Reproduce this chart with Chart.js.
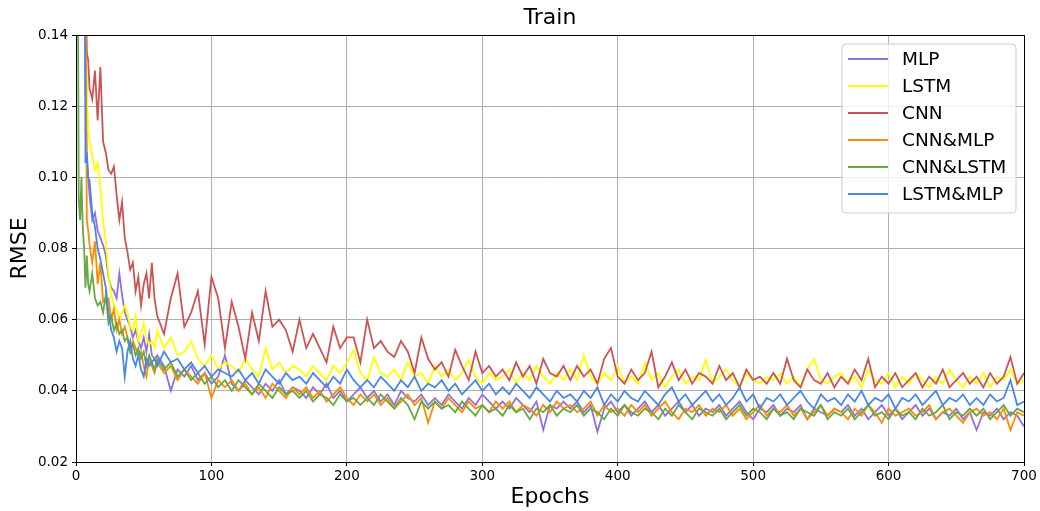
<!DOCTYPE html>
<html>
<head>
<meta charset="utf-8">
<title>Train</title>
<script src="https://cdn.jsdelivr.net/npm/chart.js@4.4.1/dist/chart.umd.min.js"></script>
<style>
  html, body { margin: 0; padding: 0; background: #fff; }
  #wrap { width: 1040px; height: 511px; }
</style>
</head>
<body>
<div id="wrap"><canvas id="trainChart" width="1040" height="511"></canvas></div>
<script>
const epochs = [0, 1, 2, 3, 4, 5, 6, 7, 8, 9, 10,
  12, 14, 16, 18, 20, 22, 24, 26, 28, 30, 32, 34, 36, 38, 40,
  42, 44, 46, 48, 50, 52, 54, 56, 58, 60];
for (let e = 65; e <= 700; e += 5) epochs.push(e);

// RMSE per series (values above 0.14 run off the top of the plot)
const mlp = [
  0.3, 0.3, 0.3, 0.3, 0.3, 0.3, 0.3, 0.13, 0.105, 0.100, 0.095,
  0.088, 0.090, 0.085, 0.083, 0.081, 0.078, 0.072, 0.069, 0.068, 0.066,
  0.073, 0.067, 0.062, 0.060, 0.058, 0.055, 0.057, 0.054, 0.052, 0.055,
  0.051, 0.056, 0.050, 0.049, 0.050,
  0.047, 0.040, 0.046, 0.044, 0.047, 0.043, 0.045, 0.042, 0.044, 0.050,
  0.042, 0.040, 0.043, 0.041, 0.039, 0.042, 0.040, 0.043, 0.039, 0.041,
  0.040, 0.038, 0.041, 0.039, 0.042, 0.038, 0.040, 0.037, 0.039, 0.041,
  0.038, 0.040, 0.037, 0.039, 0.036, 0.040, 0.038, 0.037, 0.039, 0.036,
  0.038, 0.036, 0.039, 0.037, 0.035, 0.038, 0.036, 0.039, 0.037, 0.035,
  0.037, 0.035, 0.038, 0.036, 0.034, 0.037, 0.029, 0.036, 0.035, 0.037,
  0.035, 0.037, 0.034, 0.036, 0.0285, 0.035, 0.037, 0.034, 0.036, 0.033,
  0.035, 0.037, 0.034, 0.036, 0.033, 0.035, 0.037, 0.034, 0.036, 0.033,
  0.035, 0.034, 0.036, 0.033, 0.035, 0.037, 0.034, 0.032, 0.035, 0.034,
  0.036, 0.033, 0.035, 0.034, 0.036, 0.032, 0.035, 0.034, 0.033, 0.035,
  0.034, 0.036, 0.033, 0.035, 0.032, 0.034, 0.036, 0.033, 0.035, 0.032,
  0.034, 0.036, 0.033, 0.035, 0.032, 0.034, 0.033, 0.035, 0.032, 0.034,
  0.029, 0.034, 0.033, 0.035, 0.032, 0.034, 0.033, 0.030
];
const lstm = [
  0.3, 0.3, 0.3, 0.3, 0.3, 0.25, 0.2, 0.16, 0.122, 0.114, 0.110,
  0.106, 0.102, 0.104, 0.097, 0.088, 0.082, 0.073, 0.067, 0.064, 0.063,
  0.060, 0.062, 0.064, 0.062, 0.058, 0.057, 0.061, 0.054, 0.056, 0.059,
  0.055, 0.053, 0.054, 0.052, 0.057,
  0.052, 0.055, 0.050, 0.051, 0.054, 0.049, 0.047, 0.050, 0.046, 0.048,
  0.047, 0.045, 0.049, 0.046, 0.044, 0.052, 0.046, 0.048, 0.045, 0.047,
  0.046, 0.044, 0.047, 0.045, 0.043, 0.047, 0.045, 0.048, 0.0515, 0.045,
  0.043, 0.0495, 0.045, 0.044, 0.046, 0.043, 0.048, 0.044, 0.045, 0.042,
  0.047, 0.044, 0.046, 0.043, 0.045, 0.0487, 0.044, 0.042, 0.045, 0.043,
  0.044, 0.046, 0.042, 0.045, 0.043, 0.047, 0.044, 0.042, 0.045, 0.043,
  0.046, 0.043, 0.050, 0.044, 0.042, 0.045, 0.043, 0.047, 0.042, 0.044,
  0.042, 0.048, 0.043, 0.045, 0.041, 0.044, 0.046, 0.042, 0.044, 0.043,
  0.0487, 0.042, 0.044, 0.046, 0.043, 0.041, 0.045, 0.043, 0.042, 0.044,
  0.043, 0.045, 0.042, 0.044, 0.041, 0.046, 0.049, 0.043, 0.042, 0.044,
  0.045, 0.042, 0.044, 0.041, 0.046, 0.043, 0.042, 0.045, 0.041, 0.044,
  0.042, 0.045, 0.043, 0.041, 0.044, 0.042, 0.046, 0.043, 0.041, 0.044,
  0.042, 0.045, 0.041, 0.044, 0.043, 0.046, 0.042, 0.043
];
const cnn = [
  0.3, 0.3, 0.3, 0.3, 0.3, 0.25, 0.2, 0.16, 0.135, 0.133, 0.125,
  0.122, 0.130, 0.116, 0.131, 0.110, 0.107, 0.102, 0.101, 0.103, 0.095,
  0.088, 0.093, 0.083, 0.079, 0.074, 0.076, 0.068, 0.072, 0.064, 0.070,
  0.073, 0.066, 0.076, 0.066, 0.061,
  0.056, 0.066, 0.073, 0.058, 0.062, 0.068, 0.053, 0.072, 0.066, 0.052,
  0.065, 0.058, 0.049, 0.062, 0.054, 0.068, 0.058, 0.060, 0.057, 0.051,
  0.060, 0.052, 0.056, 0.052, 0.048, 0.058, 0.052, 0.055, 0.055, 0.048,
  0.060, 0.052, 0.054, 0.051, 0.0495, 0.054, 0.051, 0.045, 0.055, 0.049,
  0.046, 0.048, 0.044, 0.0515, 0.047, 0.043, 0.051, 0.045, 0.047, 0.044,
  0.046, 0.043, 0.048, 0.044, 0.047, 0.042, 0.049, 0.045, 0.044, 0.047,
  0.043, 0.047, 0.044, 0.046, 0.042, 0.049, 0.052, 0.044, 0.042, 0.046,
  0.043, 0.045, 0.051, 0.041, 0.044, 0.048, 0.043, 0.046, 0.042, 0.045,
  0.044, 0.042, 0.047, 0.043, 0.045, 0.041, 0.046, 0.043, 0.044, 0.042,
  0.045, 0.042, 0.049, 0.043, 0.041, 0.046, 0.043, 0.042, 0.045, 0.041,
  0.044, 0.042, 0.046, 0.043, 0.049, 0.041, 0.044, 0.042, 0.045, 0.041,
  0.043, 0.045, 0.041, 0.044, 0.042, 0.046, 0.041, 0.043, 0.045, 0.042,
  0.044, 0.041, 0.045, 0.042, 0.044, 0.0495, 0.042, 0.045
];
const cnnMlp = [
  0.3, 0.3, 0.3, 0.3, 0.3, 0.3, 0.3, 0.16, 0.088, 0.085, 0.081,
  0.076, 0.082, 0.070, 0.076, 0.065, 0.066, 0.066, 0.060, 0.063, 0.057,
  0.060, 0.056, 0.058, 0.055, 0.051, 0.054, 0.052, 0.050, 0.051, 0.047,
  0.044, 0.049, 0.047, 0.045, 0.048,
  0.045, 0.047, 0.043, 0.046, 0.044, 0.042, 0.045, 0.038, 0.043, 0.041,
  0.043, 0.040, 0.042, 0.039, 0.041, 0.038, 0.042, 0.040, 0.038, 0.041,
  0.039, 0.041, 0.038, 0.040, 0.037, 0.039, 0.041, 0.038, 0.036, 0.039,
  0.037, 0.039, 0.036, 0.038, 0.035, 0.037, 0.039, 0.036, 0.038, 0.031,
  0.037, 0.035, 0.038, 0.036, 0.034, 0.037, 0.035, 0.036, 0.034, 0.037,
  0.035, 0.037, 0.034, 0.036, 0.035, 0.033, 0.036, 0.034, 0.037, 0.035,
  0.036, 0.034, 0.035, 0.037, 0.033, 0.036, 0.034, 0.035, 0.033, 0.036,
  0.034, 0.036, 0.033, 0.035, 0.037, 0.034, 0.032, 0.035, 0.034, 0.036,
  0.033, 0.035, 0.034, 0.036, 0.033, 0.035, 0.032, 0.034, 0.036, 0.033,
  0.035, 0.034, 0.036, 0.033, 0.035, 0.032, 0.034, 0.036, 0.033, 0.035,
  0.034, 0.032, 0.035, 0.033, 0.036, 0.034, 0.031, 0.035, 0.033, 0.034,
  0.035, 0.033, 0.034, 0.036, 0.032, 0.034, 0.035, 0.033, 0.031, 0.034,
  0.035, 0.033, 0.034, 0.032, 0.035, 0.029, 0.034, 0.033
];
const cnnLstm = [
  0.3, 0.2, 0.094, 0.088, 0.100, 0.086, 0.080, 0.069, 0.078, 0.070, 0.068,
  0.073, 0.066, 0.064, 0.065, 0.062, 0.067, 0.059, 0.061, 0.057, 0.059,
  0.056, 0.057, 0.054, 0.055, 0.051, 0.053, 0.050, 0.052, 0.049, 0.051,
  0.047, 0.050, 0.048, 0.046, 0.049,
  0.046, 0.048, 0.044, 0.046, 0.043, 0.045, 0.042, 0.044, 0.041, 0.043,
  0.040, 0.043, 0.041, 0.039, 0.042, 0.040, 0.038, 0.041, 0.039, 0.040,
  0.038, 0.040, 0.037, 0.039, 0.038, 0.036, 0.039, 0.037, 0.038, 0.036,
  0.038, 0.036, 0.039, 0.037, 0.035, 0.038, 0.036, 0.032, 0.037, 0.035,
  0.037, 0.035, 0.036, 0.034, 0.037, 0.035, 0.033, 0.036, 0.034, 0.035,
  0.033, 0.036, 0.034, 0.035, 0.032, 0.035, 0.034, 0.036, 0.033, 0.035,
  0.034, 0.036, 0.033, 0.035, 0.034, 0.032, 0.035, 0.033, 0.036, 0.034,
  0.033, 0.035, 0.034, 0.032, 0.035, 0.033, 0.036, 0.034, 0.032, 0.035,
  0.034, 0.033, 0.035, 0.032, 0.034, 0.036, 0.033, 0.035, 0.034, 0.032,
  0.035, 0.033, 0.034, 0.032, 0.035, 0.034, 0.033, 0.036, 0.032, 0.034,
  0.033, 0.035, 0.032, 0.034, 0.036, 0.033, 0.034, 0.032, 0.035, 0.033,
  0.034, 0.032, 0.035, 0.033, 0.034, 0.036, 0.032, 0.034, 0.033, 0.035,
  0.033, 0.035, 0.032, 0.034, 0.036, 0.033, 0.035, 0.034
];
const lstmMlp = [
  0.3, 0.3, 0.3, 0.3, 0.3, 0.3, 0.2, 0.104, 0.107, 0.100, 0.099,
  0.090, 0.086, 0.080, 0.077, 0.073, 0.069, 0.062, 0.057, 0.055, 0.051,
  0.054, 0.052, 0.044, 0.051, 0.054, 0.049, 0.047, 0.050, 0.046, 0.044,
  0.049, 0.047, 0.048, 0.049, 0.047,
  0.051, 0.048, 0.049, 0.046, 0.048, 0.045, 0.047, 0.044, 0.046, 0.045,
  0.044, 0.046, 0.043, 0.045, 0.042, 0.046, 0.044, 0.042, 0.045, 0.043,
  0.044, 0.042, 0.045, 0.043, 0.041, 0.044, 0.042, 0.046, 0.043, 0.041,
  0.043, 0.041, 0.044, 0.042, 0.040, 0.043, 0.041, 0.044, 0.040, 0.042,
  0.041, 0.043, 0.040, 0.042, 0.039, 0.041, 0.043, 0.040, 0.042, 0.039,
  0.041, 0.039, 0.042, 0.040, 0.038, 0.041, 0.039, 0.037, 0.040, 0.038,
  0.039, 0.037, 0.040, 0.038, 0.041, 0.036, 0.039, 0.037, 0.040, 0.038,
  0.037, 0.040, 0.038, 0.036, 0.039, 0.041, 0.037, 0.039, 0.036, 0.038,
  0.040, 0.037, 0.039, 0.036, 0.038, 0.041, 0.037, 0.039, 0.035, 0.038,
  0.037, 0.039, 0.036, 0.038, 0.040, 0.037, 0.035, 0.039, 0.037, 0.038,
  0.036, 0.039, 0.037, 0.040, 0.036, 0.038, 0.037, 0.039, 0.035, 0.038,
  0.037, 0.039, 0.036, 0.038, 0.040, 0.036, 0.038, 0.037, 0.039, 0.036,
  0.038, 0.036, 0.039, 0.037, 0.038, 0.043, 0.036, 0.037
];

const seriesNames = ["MLP", "LSTM", "CNN", "CNN&MLP", "CNN&LSTM", "LSTM&MLP"];
const seriesValues = [mlp, lstm, cnn, cnnMlp, cnnLstm, lstmMlp];
const seriesColors = ["#9370db", "#ffff00", "#cd5454", "#ff8c00", "#66a844", "#4a86e8"];

Chart.defaults.font.family = "'DejaVu Sans', sans-serif";
Chart.defaults.color = "#000";

// Black frame on all four sides plus a matplotlib-style legend box
const frameAndLegend = {
  id: "frameAndLegend",
  afterDraw(chart) {
    const { ctx, chartArea: a } = chart;
    ctx.save();
    ctx.strokeStyle = "#000";
    ctx.lineWidth = 1;
    ctx.strokeRect(Math.round(a.left) + 0.5, Math.round(a.top) + 0.5,
      Math.round(a.right - a.left), Math.round(a.bottom - a.top));

    const w = 174, h = 169, r = 4;
    const x = a.right - 8 - w, y = a.top + 9;
    ctx.beginPath();
    ctx.moveTo(x + r, y);
    ctx.arcTo(x + w, y, x + w, y + h, r);
    ctx.arcTo(x + w, y + h, x, y + h, r);
    ctx.arcTo(x, y + h, x, y, r);
    ctx.arcTo(x, y, x + w, y, r);
    ctx.closePath();
    ctx.fillStyle = "rgba(255,255,255,0.8)";
    ctx.fill();
    ctx.strokeStyle = "#cccccc";
    ctx.stroke();

    ctx.font = "18.5px 'DejaVu Sans', sans-serif";
    ctx.textBaseline = "middle";
    seriesNames.forEach((name, i) => {
      const ly = y + 15 + i * 27;
      ctx.beginPath();
      ctx.moveTo(x + 6, ly);
      ctx.lineTo(x + 46, ly);
      ctx.strokeStyle = seriesColors[i];
      ctx.lineWidth = 1.8;
      ctx.stroke();
      ctx.fillStyle = "#000";
      ctx.fillText(name, x + 60, ly + 1);
    });
    ctx.restore();
  },
};

const ctx = document.getElementById("trainChart").getContext("2d");
new Chart(ctx, {
  type: "line",
  data: {
    datasets: seriesNames.map((name, i) => ({
      label: name,
      data: epochs.map((e, j) => ({ x: e, y: seriesValues[i][j] })),
      borderColor: seriesColors[i],
      backgroundColor: seriesColors[i],
      borderWidth: 1.8,
      pointRadius: 0,
      fill: false,
      tension: 0,
      order: seriesNames.length - 1 - i, // last series drawn on top
    })),
  },
  options: {
    responsive: false,
    animation: false,
    devicePixelRatio: 1,
    layout: { padding: { left: 0, right: 16, top: 0, bottom: 0 } },
    plugins: {
      legend: { display: false },
      tooltip: { enabled: false },
      title: {
        display: true,
        text: "Train",
        fullSize: false,
        color: "#000",
        font: { size: 22, weight: "normal" },
        padding: { top: 5, bottom: 3.6 },
      },
    },
    scales: {
      x: {
        type: "linear",
        min: 0,
        max: 700,
        ticks: { stepSize: 100, color: "#000", font: { size: 13.5 }, padding: 2, maxRotation: 0 },
        grid: { color: "#b0b0b0", tickColor: "#000", tickLength: 4 },
        border: { color: "#000" },
        title: {
          display: true,
          text: "Epochs",
          color: "#000",
          font: { size: 22 },
          padding: { top: 0, bottom: 1 },
        },
        afterFit: (s) => { s.height = 49; },
      },
      y: {
        min: 0.02,
        max: 0.14,
        ticks: {
          stepSize: 0.02,
          color: "#000",
          font: { size: 13.5 },
          padding: 4,
          callback: (v) => v.toFixed(2),
        },
        grid: { color: "#b0b0b0", tickColor: "#000", tickLength: 4 },
        border: { color: "#000" },
        title: {
          display: true,
          text: "RMSE",
          color: "#000",
          font: { size: 22 },
          padding: { top: 7, bottom: 0 },
        },
        afterFit: (s) => { s.width = 76; },
      },
    },
  },
  plugins: [frameAndLegend],
});
</script>
</body>
</html>
